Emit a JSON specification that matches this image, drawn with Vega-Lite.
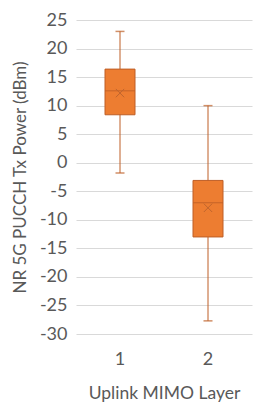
{
  "$schema": "https://vega.github.io/schema/vega-lite/v6.json",
  "width": 176,
  "height": 314,
  "autosize": {"type": "none"},
  "padding": {"left": 76, "top": 20, "right": 10, "bottom": 75},
  "background": "white",
  "data": {"values": [
    {"layer": "1", "min": -1.8, "q1": 8.4, "median": 12.6, "q3": 16.4, "max": 23, "mean": 12.2},
    {"layer": "2", "min": -27.7, "q1": -13, "median": -7, "q3": -3.1, "max": 10, "mean": -7.9}
  ]},
  "config": {
    "view": {"stroke": null},
    "font": "Lato",
    "axis": {"labelFont": "Lato", "titleFont": "Lato", "labelColor": "#595959", "titleColor": "#595959", "titleFontWeight": "normal"},
    "axisY": {"tickCount": 11, "labelExpr": "'' + datum.value", "labelOverlap": false, "labelFontSize": 18, "titleFontSize": 17, "ticks": false, "domain": false, "labelPadding": 9, "gridColor": "#D9D9D9", "gridWidth": 1, "titleX": -56, "titleY": 157, "titleBaseline": "middle", "titleAlign": "center", "titleAngle": 270}
  },
  "encoding": {
    "x": {
      "field": "layer", "type": "nominal",
      "scale": {"paddingInner": 0, "paddingOuter": 0},
      "axis": {"title": "Uplink MIMO Layer", "labelAngle": 0, "labelFontSize": 18, "titleFontSize": 17.5, "ticks": false, "domain": false, "labelPadding": 16, "titlePadding": 16}
    }
  },
  "layer": [
    {
      "mark": {"type": "rule", "color": "#BE5F27", "strokeWidth": 1},
      "encoding": {
        "y": {"field": "min", "type": "quantitative",
          "scale": {"domain": [-30, 25], "nice": false, "zero": false},
          "title": "NR 5G PUCCH Tx Power (dBm)"},
        "y2": {"field": "max"}
      }
    },
    {
      "mark": {"type": "tick", "color": "#BE5F27", "size": 9, "thickness": 1.5, "orient": "horizontal"},
      "encoding": {"y": {"field": "min", "type": "quantitative", "title": "NR 5G PUCCH Tx Power (dBm)"}}
    },
    {
      "mark": {"type": "tick", "color": "#BE5F27", "size": 9, "thickness": 1.5, "orient": "horizontal"},
      "encoding": {"y": {"field": "max", "type": "quantitative", "title": "NR 5G PUCCH Tx Power (dBm)"}}
    },
    {
      "mark": {"type": "bar", "size": 30, "color": "#ED7D31", "stroke": "#BE5F27", "strokeWidth": 1},
      "encoding": {
        "y": {"field": "q1", "type": "quantitative", "title": "NR 5G PUCCH Tx Power (dBm)"},
        "y2": {"field": "q3"}
      }
    },
    {
      "mark": {"type": "tick", "color": "#BE5F27", "size": 30, "thickness": 1.2, "orient": "horizontal"},
      "encoding": {"y": {"field": "median", "type": "quantitative", "title": "NR 5G PUCCH Tx Power (dBm)"}}
    },
    {
      "mark": {"type": "point", "shape": "M-1,-1L1,1M-1,1L1,-1", "filled": false, "stroke": "#C0652D", "strokeWidth": 1, "size": 70, "opacity": 1},
      "encoding": {"y": {"field": "mean", "type": "quantitative", "title": "NR 5G PUCCH Tx Power (dBm)"}}
    }
  ]
}
